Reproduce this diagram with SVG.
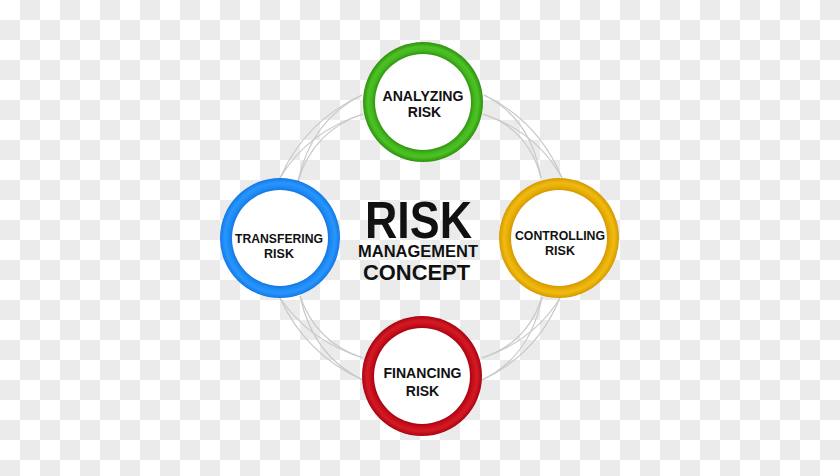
<svg xmlns="http://www.w3.org/2000/svg" width="840" height="476" viewBox="0 0 840 476">
<defs>
<pattern id="checker" x="0" y="0" width="40" height="40" patternUnits="userSpaceOnUse">
<rect width="40" height="40" fill="#ffffff"/>
<rect x="20" y="0" width="20" height="20" fill="#ebebeb"/>
<rect x="0" y="20" width="20" height="20" fill="#ebebeb"/>
</pattern>
<radialGradient id="gGreen" cx="0.5" cy="0.5" r="0.5">
<stop offset="0.78" stop-color="#2a8a0c"/>
<stop offset="0.86" stop-color="#45b81f"/>
<stop offset="0.92" stop-color="#4cc224"/>
<stop offset="1" stop-color="#2f900f"/>
</radialGradient>
<radialGradient id="gBlue" cx="0.5" cy="0.5" r="0.5">
<stop offset="0.78" stop-color="#1370de"/>
<stop offset="0.86" stop-color="#1f8cf6"/>
<stop offset="0.92" stop-color="#2896ff"/>
<stop offset="1" stop-color="#1477e6"/>
</radialGradient>
<radialGradient id="gOrange" cx="0.5" cy="0.5" r="0.5">
<stop offset="0.78" stop-color="#cf9200"/>
<stop offset="0.86" stop-color="#e8ae06"/>
<stop offset="0.92" stop-color="#f0bb10"/>
<stop offset="1" stop-color="#d49a00"/>
</radialGradient>
<radialGradient id="gRed" cx="0.5" cy="0.5" r="0.5">
<stop offset="0.78" stop-color="#9e0010"/>
<stop offset="0.86" stop-color="#c8101c"/>
<stop offset="0.92" stop-color="#d41a24"/>
<stop offset="1" stop-color="#a80412"/>
</radialGradient>
<style>
.arc{fill:none;stroke:#c9c9c9;stroke-width:1.2}
.inner{fill:#ffffff}
.lbl{font-family:"Liberation Sans",Arial,sans-serif;font-weight:bold;fill:#111111;text-anchor:middle}
</style>
</defs>
<rect width="840" height="476" fill="url(#checker)"/>
<g id="connectors">
<path class="arc" d="M362,95 Q305.4,120.9 280,178"/>
<path class="arc" d="M362,95 Q311.6,119.6 298,181"/>
<path class="arc" d="M363,114 Q307.4,131.9 280,178"/>
<path class="arc" d="M363,114 Q313.5,130.5 298,181"/>
<path class="arc" d="M484,95 Q538.6,120.9 562,178"/>
<path class="arc" d="M484,95 Q530.9,118.1 541,178"/>
<path class="arc" d="M483,114 Q536.6,131.9 562,178"/>
<path class="arc" d="M483,114 Q529,129 541,178"/>
<path class="arc" d="M280,298 Q305.9,354.6 363,380"/>
<path class="arc" d="M280,298 Q308.8,340.7 363,358"/>
<path class="arc" d="M300,296 Q313.1,356.4 363,380"/>
<path class="arc" d="M300,296 Q315.9,342.6 363,358"/>
<path class="arc" d="M560,298 Q536.6,354.6 482,380"/>
<path class="arc" d="M560,298 Q533.7,340.7 482,358"/>
<path class="arc" d="M542,297 Q530.4,356.9 482,380"/>
<path class="arc" d="M542,297 Q527.6,343.1 482,358"/>
</g>
<g id="analyzing">
<circle cx="423" cy="102" r="60" fill="url(#gGreen)"/>
<circle class="inner" cx="423" cy="102" r="48"/>
<text class="lbl" x="423" y="101" font-size="14" textLength="81" lengthAdjust="spacingAndGlyphs">ANALYZING</text>
<text class="lbl" x="424.5" y="117" font-size="14">RISK</text>
</g>
<g id="transfering">
<circle cx="280" cy="238" r="60" fill="url(#gBlue)"/>
<circle class="inner" cx="280" cy="238" r="48"/>
<text class="lbl" x="279" y="243" font-size="13" textLength="88" lengthAdjust="spacingAndGlyphs">TRANSFERING</text>
<text class="lbl" x="279" y="257.5" font-size="12.5">RISK</text>
</g>
<g id="controlling">
<circle cx="559" cy="238" r="60" fill="url(#gOrange)"/>
<circle class="inner" cx="559" cy="238" r="48"/>
<text class="lbl" x="560" y="240" font-size="13" textLength="90" lengthAdjust="spacingAndGlyphs">CONTROLLING</text>
<text class="lbl" x="560" y="254.5" font-size="12.5">RISK</text>
</g>
<g id="financing">
<circle cx="422" cy="376" r="60" fill="url(#gRed)"/>
<circle class="inner" cx="422" cy="376" r="48"/>
<text class="lbl" x="422.5" y="378" font-size="14" textLength="78" lengthAdjust="spacingAndGlyphs">FINANCING</text>
<text class="lbl" x="422.5" y="396" font-size="14">RISK</text>
</g>
<g id="title">
<text class="lbl" x="418.5" y="238" font-size="52" textLength="107" lengthAdjust="spacingAndGlyphs">RISK</text>
<text class="lbl" x="418" y="257" font-size="16.5" textLength="120" lengthAdjust="spacingAndGlyphs">MANAGEMENT</text>
<text class="lbl" x="416.5" y="280" font-size="22" textLength="107" lengthAdjust="spacingAndGlyphs">CONCEPT</text>
</g>
</svg>
